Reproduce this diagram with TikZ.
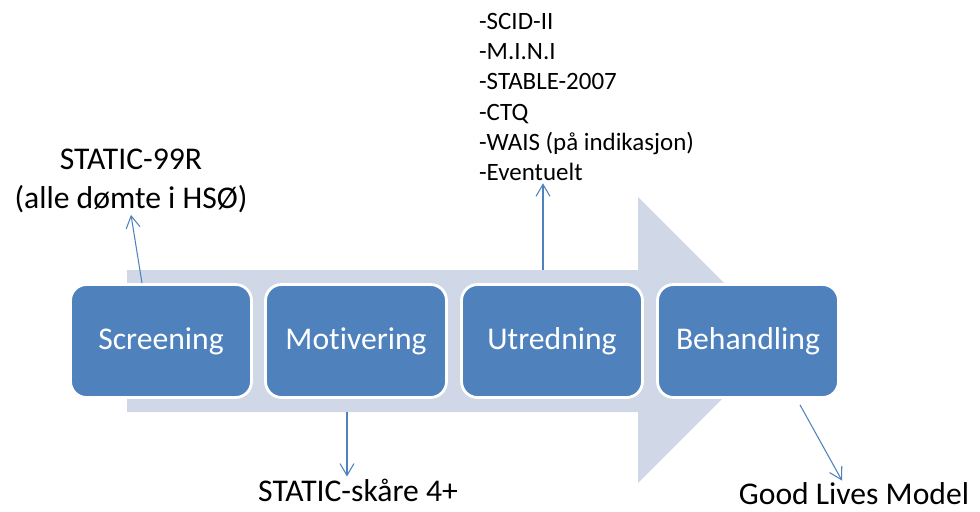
\documentclass[tikz,border=0pt]{standalone}
\usepackage{fontspec}
\setmainfont{Carlito}[Ligatures=NoCommon]
\usetikzlibrary{arrows.meta}
\definecolor{stageblue}{RGB}{79,129,189}
\definecolor{flowgray}{RGB}{208,216,232}
\tikzset{
	stage/.style={draw=white, line width=1.6pt, fill=stageblue, rounded corners=0.32cm,
		minimum width=3.62cm, minimum height=2.26cm, text=white, font=\fontsize{18}{22}\selectfont},
	note/.style={inner sep=1pt, font=\fontsize{18}{22}\selectfont, align=center},
	link/.style={draw=stageblue, line width=0.6pt, -{Straight Barb[length=2.4mm,width=2.8mm]}}
}

\begin{document}
\begin{tikzpicture}[x=0.02cm, y=-0.02cm]
			%%%%% START %%%%%
			
			\useasboundingbox (0, 0) rectangle (980, 511);
			
			% big arrow behind the stages
			\fill[flowgray] (127, 270) -- (638, 270) -- (638, 197) -- (781, 340) -- (638, 483) -- (638, 412) -- (127, 412) -- cycle;
			\coordinate (shafttop) at (543, 270);
			\coordinate (shaftbot) at (347, 412);
			
			\node[stage] (scr) at (161, 341) {Screening};
			\node[stage] (mot) at (356, 341) {Motivering};
			\node[stage] (utr) at (552, 341) {Utredning};
			\node[stage] (beh) at (748, 341) {Behandling};
			
			\node[note] (static) at (131, 181) {STATIC-99R\\(alle dømte i HSØ)};
			\node[note] (skaare) at (358, 490) {STATIC-skåre 4+};
			\node[note, inner sep=0pt] (glm) at (854, 494) {Good Lives Model};
			\node[inner sep=1pt, anchor=west, align=left, font=\fontsize{14.2}{17.3}\selectfont] (tests) at (477, 97)
				{-SCID-II\\-M.I.N.I\\-STABLE-2007\\-CTQ\\-WAIS (på indikasjon)\\-Eventuelt};
			
			\draw[link] ([xshift=-0.38cm]scr.north) -- (static.south);
			\draw[link] (shafttop) -- (shafttop |- tests.south);
			\draw[link] (shaftbot) -- (shaftbot |- skaare.north);
			\draw[link] ([xshift=1.04cm, yshift=-0.12cm]beh.south) -- ([xshift=-0.24cm, yshift=0.04cm]glm.north);
			
			%%%%% END %%%%%
\end{tikzpicture}
\end{document}
